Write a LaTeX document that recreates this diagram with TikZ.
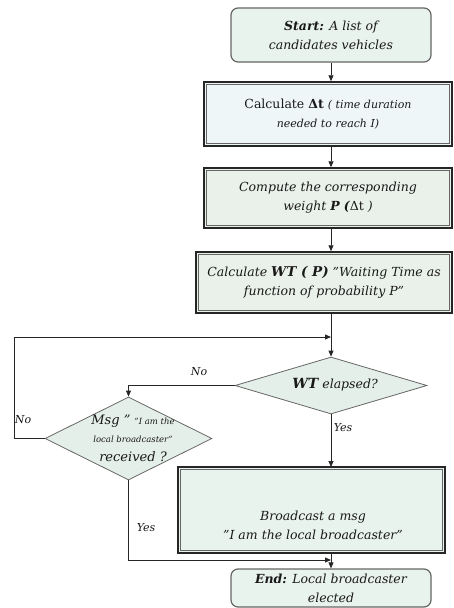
\documentclass[tikz,border=0pt]{standalone}
\usepackage{fontspec}
\setmainfont{DejaVu Serif}
\usetikzlibrary{arrows.meta,shapes.geometric}
\definecolor{mint}{HTML}{E8F3EE}
\definecolor{bluish}{HTML}{EEF6F8}
\definecolor{greyg}{HTML}{EAF1EB}
\definecolor{diafill}{HTML}{E4EFE9}
\begin{document}
\begin{tikzpicture}[x=1pt,y=-1pt,
  base/.style={font=\itshape\fontsize{12.5}{19}\selectfont, align=center, inner sep=0pt, text=black!90},
  rbox/.style={base, draw=black!60, line width=1.2pt, rounded corners=7pt, fill=mint},
  dbox/.style={base, draw=black!85, line width=1.5pt},
  dia/.style={diamond, draw=black!60, line width=0.8pt, fill=diafill, inner sep=0pt},
  lbl/.style={font=\itshape\fontsize{11}{12}\selectfont, inner sep=0pt, text=black!90},
  arr/.style={-{Triangle[length=6pt,width=5pt]}, line width=0.8pt, draw=black!85},
  inner/.style={draw=black!60, line width=0.7pt}]
\useasboundingbox (0,0) rectangle (453,608);

\node[rbox, minimum width=200pt, minimum height=54pt] (start) at (331,35)
  {\textbf{Start:} A list of\\candidates vehicles};
\node[dbox, fill=bluish, minimum width=248pt, minimum height=64pt] (dt) at (328,114)
  {\upshape Calculate \textbf{Δt} {\itshape\fontsize{11}{19}\selectfont( time duration}\\{\fontsize{11}{19}\selectfont needed to reach I)}};
\node[dbox, fill=greyg, minimum width=248pt, minimum height=60pt] (comp) at (328,198)
  {Compute the corresponding\\weight \textbf{P} \textbf{(}{\upshape Δt} )};
\node[dbox, fill=greyg, minimum width=256pt, minimum height=61pt] (wtb) at (324,282.5)
  {Calculate {\fontsize{13.5}{19}\selectfont\textbf{WT ( P)}} "Waiting Time as\\function of probability P"};
\node[dia, minimum width=192pt, minimum height=57pt] (wtd) at (331,385.5) {};
\node[base] (wtdt) at (335,385) {{\fontsize{14}{19}\selectfont\textbf{WT}} elapsed?};
\node[dia, minimum width=167pt, minimum height=83pt] (msg) at (128.5,438.5) {};
\node[base] (msgt) at (133,438) {{\fontsize{13}{19}\selectfont Msg "} {\fontsize{8.5}{19}\selectfont "I am the}\\[-1pt]{\fontsize{8.5}{14}\selectfont local broadcaster"}\\{\fontsize{13}{19}\selectfont received ?}};
\node[dbox, fill=mint, minimum width=267pt, minimum height=86pt] (bc) at (311.5,510) {};
\node[base] (bct) at (313,525) {Broadcast a msg\\"I am the local broadcaster"};
\node[rbox, minimum width=200pt, minimum height=38pt] (end) at (331,588)
  {\textbf{End:} Local broadcaster\\elected};

\foreach \n in {dt,comp,wtb,bc}
  \draw[inner] ([shift={(3.5pt,-3.5pt)}]\n.north west) rectangle ([shift={(-3.5pt,3.5pt)}]\n.south east);

\coordinate (lp) at (331,337);
\coordinate (yj) at (331,560);
\coordinate (bcin) at (331,467);
\coordinate (bcout) at (331,553);

\draw[arr] (start) -- (dt.north -| start);
\draw[arr] (dt.south -| start) -- (comp.north -| start);
\draw[arr] (comp.south -| start) -- (wtb.north -| start);
\draw[arr] (wtb.south -| start) -- (wtd);
\draw[arr] (wtd) -- (bcin);
\draw[arr] (bcout) -- (end);
\draw[arr] (wtd.west) -| (msg.north);
\draw[arr] (msg.west) -- ++(-30pt,0pt) |- (lp);
\draw[arr] (msg.south) |- (yj);

\node[lbl] (no1) at (199,372) {No};
\node[lbl] (no2) at (23,420) {No};
\node[lbl] (yes1) at (343,428) {Yes};
\node[lbl] (yes2) at (146,528) {Yes};
\end{tikzpicture}
\end{document}
